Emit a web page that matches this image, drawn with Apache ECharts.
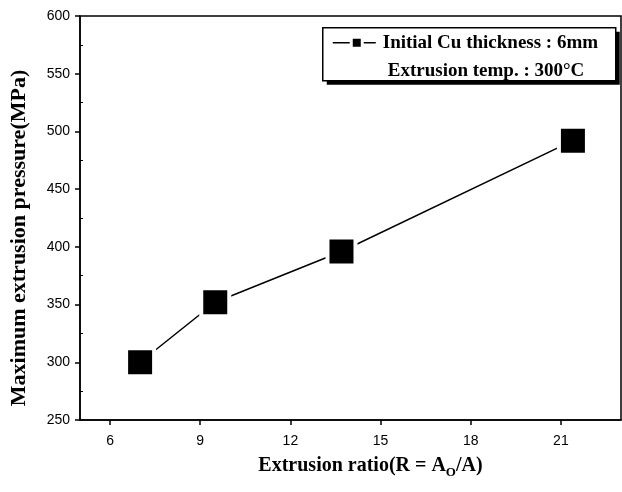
<!DOCTYPE html>
<html>
<head>
<meta charset="utf-8">
<script src="https://cdn.jsdelivr.net/npm/echarts@6/dist/echarts.min.js"></script>
<style>
  html, body { margin: 0; padding: 0; background: #fff; }
  #chart { width: 622px; height: 492px; }
</style>
</head>
<body>
<div id="chart"></div>
<script>
const ratios = [7, 9.5, 13.7, 21.4];
const pressures = [300, 352, 396, 492];
const xTicks = [6, 9, 12, 15, 18, 21];
const seriesName = "Initial Cu thickness : 6mm";
const noteText = "Extrusion temp. : 300°C";

const serif = "Liberation Serif";
const sans = "Liberation Sans";

function renderChart(containerId) {
  const chart = echarts.init(document.getElementById(containerId));

  chart.setOption({
    animation: false,
    grid: {
      left: 80, right: 1, top: 16, bottom: 72,
      show: true, borderColor: "#000", borderWidth: 1.5
    },
    xAxis: {
      type: "value",
      min: 5,
      max: 23,
      name: "{t|Extrusion ratio(R = A}{sub|O}{t|/A)}",
      nameLocation: "middle",
      nameGap: 33,
      nameTextStyle: {
        padding: [0, 0, 0, 40],
        rich: {
          t: { fontFamily: serif, fontWeight: "bold", fontSize: 20, color: "#000" },
          sub: { fontFamily: serif, fontWeight: "bold", fontSize: 13, color: "#000", padding: [13, 0, 0, 0] }
        }
      },
      axisLine: { lineStyle: { color: "#000", width: 1.5 } },
      axisTick: { customValues: xTicks, length: 5, lineStyle: { color: "#000", width: 1.5 } },
      axisLabel: { customValues: xTicks, fontFamily: sans, fontSize: 14, color: "#000", margin: 14 },
      splitLine: { show: false }
    },
    yAxis: {
      type: "value",
      min: 250,
      max: 600,
      interval: 50,
      name: "Maximum extrusion pressure(MPa)",
      nameLocation: "middle",
      nameGap: 50,
      nameTextStyle: { fontFamily: serif, fontWeight: "bold", fontSize: 22, color: "#000", padding: [0, 40, 0, 0] },
      axisLine: { show: true, lineStyle: { color: "#000", width: 1.5 } },
      axisTick: { show: true, length: 5, lineStyle: { color: "#000", width: 1.5 } },
      minorTick: { show: true, splitNumber: 2, length: -3, lineStyle: { color: "#000" } },
      axisLabel: { fontFamily: sans, fontSize: 14, color: "#000", margin: 10 },
      splitLine: { show: false }
    },
    series: [{
      name: seriesName,
      type: "line",
      data: ratios.map((r, i) => [r, pressures[i]]),
      symbol: "rect",
      symbolSize: 28,
      itemStyle: { color: "#000", borderColor: "#fff", borderWidth: 4 },
      lineStyle: { color: "#000", width: 1.5 }
    }],
    graphic: [{
      type: "group",
      left: 322,
      top: 27,
      children: [
        { type: "rect", shape: { x: 4, y: 4, width: 293, height: 53 }, style: { fill: "#000" } },
        { type: "rect", shape: { x: 0, y: 0, width: 293, height: 53 }, style: { fill: "#fff", stroke: "#000", lineWidth: 1.5 } },
        { type: "line", shape: { x1: 10, y1: 15, x2: 27, y2: 15 }, style: { stroke: "#000", lineWidth: 1.5 } },
        { type: "line", shape: { x1: 41, y1: 15, x2: 53, y2: 15 }, style: { stroke: "#000", lineWidth: 1.5 } },
        { type: "rect", shape: { x: 30, y: 11, width: 8, height: 8 }, style: { fill: "#000" } },
        { type: "text", x: 60, y: 15, style: { text: seriesName, font: "bold 19px " + serif, fill: "#000", textVerticalAlign: "middle" } },
        { type: "text", x: 65, y: 43, style: { text: noteText, font: "bold 19px " + serif, fill: "#000", textVerticalAlign: "middle" } }
      ]
    }]
  });
}

renderChart("chart");
</script>
</body>
</html>
